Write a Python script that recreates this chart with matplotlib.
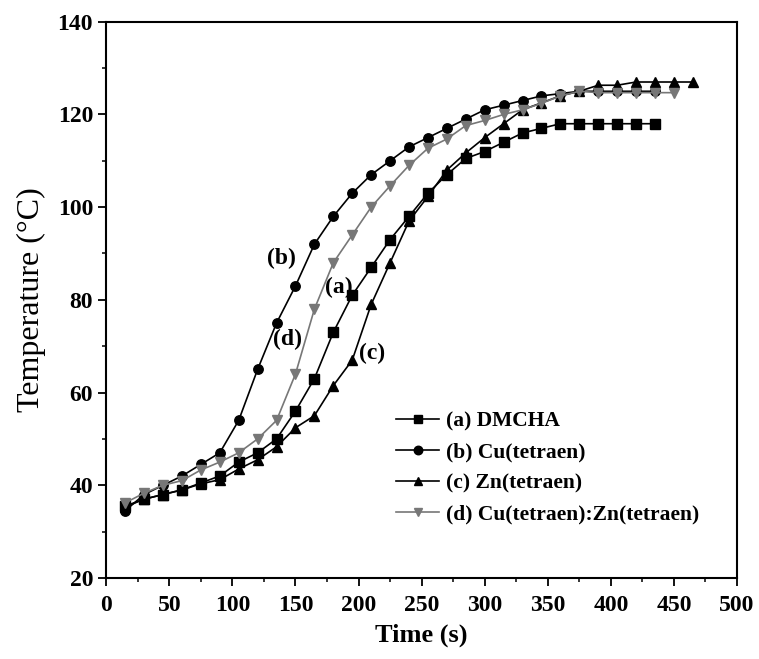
import numpy as np
import matplotlib
matplotlib.use('Agg')
import matplotlib.pyplot as plt
from matplotlib.ticker import MultipleLocator

plt.rcParams['font.family'] = ['Liberation Serif', 'DejaVu Serif']

# Time points (s)
time_a = [15, 30, 45, 60, 75, 90, 105, 120, 135, 150, 165, 180, 195, 210, 225,
          240, 255, 270, 285, 300, 315, 330, 345, 360, 375, 390, 405, 420, 435]
time_b = time_a
time_c = time_a + [450, 465]
time_d = time_a + [450]

# Temperatures (deg C)
temp_a = [35.5, 37, 38, 39, 40.5, 42, 45, 47, 50, 56, 63, 73, 81, 87, 93,
          98, 103, 107, 110.5, 112, 114, 116, 117, 118, 118, 118, 118, 118, 118]
temp_b = [34.5, 38, 40, 42, 44.5, 47, 54, 65, 75, 83, 92, 98, 103, 107, 110,
          113, 115, 117, 119, 121, 122, 123, 124, 124.5, 125, 125, 125, 125, 125]
temp_c = [35.3, 37, 38, 39, 40.3, 41.2, 43.5, 45.5, 48.3, 52.4, 55, 61.5, 67, 79, 88,
          97, 102.3, 108, 111.7, 115, 118, 121, 122.5, 124, 125, 126.3, 126.3, 127, 127,
          127, 127]
temp_d = [36.2, 38.3, 40, 41, 43.3, 45, 47, 50, 54, 64, 78, 88, 94, 100, 104.6,
          109, 112.7, 114.7, 117.6, 118.7, 120, 121, 122.4, 124, 125, 124.7, 124.7, 124.7, 124.7,
          124.7]

labels = ['(a) DMCHA', '(b) Cu(tetraen)', '(c) Zn(tetraen)', '(d) Cu(tetraen):Zn(tetraen)']

fig = plt.figure(figsize=(7.59, 6.59), dpi=100)
ax = fig.add_axes([0.14, 0.123, 0.831, 0.844])

ms = 6.8
ax.plot(time_a, temp_a, '-s', color='black', lw=1.2, ms=ms, label=labels[0])
ax.plot(time_b, temp_b, '-o', color='black', lw=1.2, ms=ms, label=labels[1])
ax.plot(time_c, temp_c, '-^', color='black', lw=1.2, ms=ms, label=labels[2])
ax.plot(time_d, temp_d, '-v', color='#777777', lw=1.2, ms=ms, label=labels[3])

# curve annotations
ax.text(139, 89, '(b)', fontsize=17, fontweight='bold', ha='center', va='center')
ax.text(184, 82.7, '(a)', fontsize=17, fontweight='bold', ha='center', va='center')
ax.text(143.5, 71.4, '(d)', fontsize=17, fontweight='bold', ha='center', va='center')
ax.text(211, 68.4, '(c)', fontsize=17, fontweight='bold', ha='center', va='center')

ax.set_xlim(0, 500)
ax.set_ylim(20, 140)
ax.xaxis.set_major_locator(MultipleLocator(50))
ax.xaxis.set_minor_locator(MultipleLocator(25))
ax.yaxis.set_major_locator(MultipleLocator(20))
ax.yaxis.set_minor_locator(MultipleLocator(10))
ax.tick_params(which='major', direction='out', length=6, width=1.3, labelsize=17)
ax.tick_params(which='minor', direction='out', length=3, width=1.1)
ax.tick_params(axis='x', pad=6)
for lab in ax.get_xticklabels() + ax.get_yticklabels():
    lab.set_fontweight('bold')
for sp in ax.spines.values():
    sp.set_linewidth(1.5)

ax.set_xlabel('Time (s)', fontsize=19, fontweight='bold', labelpad=6)
ax.set_ylabel('Temperature (\u00b0C)', fontsize=23, labelpad=8)

leg = ax.legend(loc='center left', bbox_to_anchor=(0.446, 0.198), frameon=False,
                prop={'size': 15.5, 'weight': 'bold'}, handlelength=2.0,
                handletextpad=0.3, labelspacing=0.5, markerscale=0.9,
                borderaxespad=0)

fig.savefig('out.png', dpi=100)
